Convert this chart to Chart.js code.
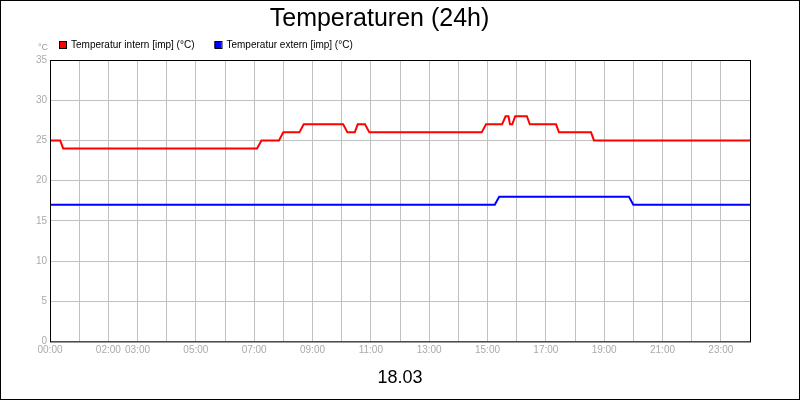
<!DOCTYPE html>
<html>
<head>
<meta charset="utf-8">
<script src="https://cdn.jsdelivr.net/npm/chart.js@4/dist/chart.umd.min.js"></script>
<style>
  body { margin: 0; background: #fff; }
  #wrap { width: 798px; height: 398px; border: 1px solid #000; }
</style>
</head>
<body>
<div id="wrap"><canvas id="c" width="798" height="398"></canvas></div>
<script>
// Stunden (0-24) und Werte
const internZeit = [0, 0.35, 0.45, 7.1, 7.25, 7.85, 8.0, 8.55, 8.7, 10.05, 10.2, 10.45, 10.55, 10.8, 10.95, 14.8, 14.95, 15.5, 15.62, 15.72, 15.77, 15.85, 15.95, 16.35, 16.45, 17.35, 17.45, 18.55, 18.65, 24];
const internWerte = [25, 25, 24, 24, 25, 25, 26, 26, 27, 27, 26, 26, 27, 27, 26, 26, 27, 27, 28, 28, 27, 27, 28, 28, 27, 27, 26, 26, 25, 25];
const externZeit = [0, 15.25, 15.4, 19.85, 20.0, 24];
const externWerte = [17, 17, 18, 18, 17, 17];
const xLabels = [0, 2, 3, 5, 7, 9, 11, 13, 15, 17, 19, 21, 23];

const pkt = (t, v) => t.map((x, i) => ({ x: x, y: v[i] }));

// Rahmen, Einheit und Legende selbst zeichnen
const extras = {
  id: 'extras',
  afterDraw(chart) {
    const ctx = chart.ctx, a = chart.chartArea;
    ctx.save();
    ctx.strokeStyle = '#000';
    ctx.lineWidth = 1;
    ctx.strokeRect(a.left + 0.5, a.top + 0.5, a.right - a.left, a.bottom - a.top);
    ctx.fillStyle = '#999';
    ctx.font = '9px "Liberation Sans"';
    ctx.textAlign = 'left';
    ctx.textBaseline = 'middle';
    ctx.fillText('°C', 37, 47);
    let x = 58;
    ctx.font = '10px "Liberation Sans"';
    chart.data.datasets.forEach(ds => {
      ctx.fillStyle = ds.borderColor;
      ctx.fillRect(x, 40, 7, 7);
      ctx.strokeStyle = '#000';
      ctx.strokeRect(x + 0.5, 40.5, 7, 7);
      ctx.fillStyle = '#000';
      ctx.fillText(ds.label, x + 12, 44);
      x += 12 + ctx.measureText(ds.label).width + 20;
    });
    ctx.restore();
  }
};

new Chart(document.getElementById('c'), {
  type: 'line',
  data: {
    datasets: [
      { label: 'Temperatur intern [imp] (°C)', data: pkt(internZeit, internWerte), borderColor: '#ff0000', borderWidth: 2, pointRadius: 0 },
      { label: 'Temperatur extern [imp] (°C)', data: pkt(externZeit, externWerte), borderColor: '#0000ff', borderWidth: 2, pointRadius: 0 }
    ]
  },
  options: {
    responsive: false,
    animation: false,
    layout: { padding: { left: 8, right: 49, top: 0, bottom: 6 } },
    plugins: {
      title: { display: true, text: 'Temperaturen (24h)', color: '#000', font: { family: 'Liberation Sans', size: 25, weight: 'normal' }, padding: { top: 3, bottom: 26 } },
      legend: { display: false },
      tooltip: { enabled: false }
    },
    scales: {
      x: {
        type: 'linear', min: 0, max: 24,
        afterBuildTicks: s => { s.ticks = Array.from({ length: 25 }, (_, i) => ({ value: i })); },
        ticks: {
          autoSkip: false, maxRotation: 0, color: '#aaa', font: { family: 'Liberation Sans', size: 10 },
          callback: v => xLabels.includes(v) ? String(v).padStart(2, '0') + ':00' : ''
        },
        grid: { color: '#c0c0c0', drawTicks: false },
        border: { display: false },
        title: { display: true, text: '18.03', color: '#000', font: { family: 'Liberation Sans', size: 18 }, padding: { top: 8 } }
      },
      y: {
        min: 0, max: 35,
        ticks: { stepSize: 5, color: '#aaa', font: { family: 'Liberation Sans', size: 10 } },
        grid: { color: '#c0c0c0', drawTicks: false },
        border: { display: false },
        afterFit: s => { s.width = 41; }
      }
    }
  },
  plugins: [extras]
});
</script>
</body>
</html>
